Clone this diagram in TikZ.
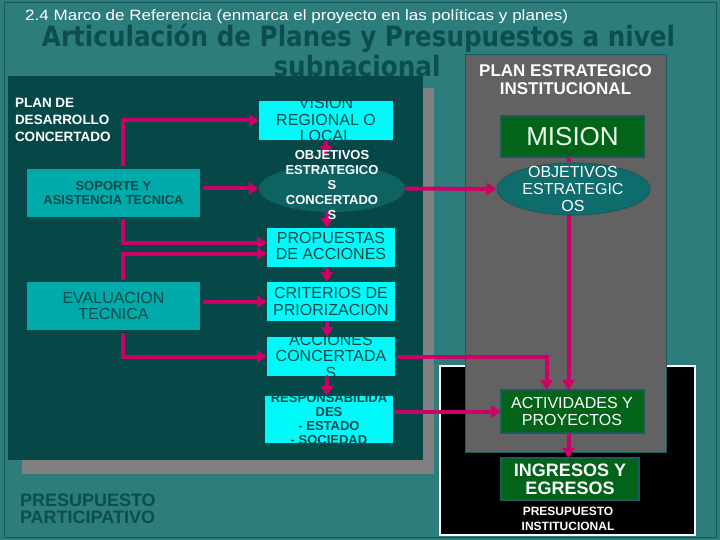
\documentclass[tikz,border=0pt]{standalone}
\usepackage{fontspec}
\setmainfont{Liberation Sans}
\newfontfamily\dvs{DejaVu Sans}
\usetikzlibrary{arrows.meta,shapes.geometric}
\definecolor{bgteal}{RGB}{45,125,125}
\definecolor{framec}{RGB}{25,90,90}
\definecolor{titlec}{RGB}{12,78,78}
\definecolor{panelc}{RGB}{6,72,72}
\definecolor{shadowc}{RGB}{128,128,128}
\definecolor{grayp}{RGB}{98,98,98}
\definecolor{cyanc}{RGB}{0,250,250}
\definecolor{midc}{RGB}{0,170,170}
\definecolor{ellL}{RGB}{14,98,98}
\definecolor{ellR}{RGB}{14,108,108}
\definecolor{greenc}{RGB}{3,100,25}
\definecolor{darktxt}{RGB}{10,75,75}
\definecolor{pinkc}{RGB}{204,0,102}
\newcommand{\fs}[2]{\fontsize{#1}{#2}\selectfont}
\begin{document}
\begin{tikzpicture}[x=1pt,y=-1pt,
  boxbase/.style={rectangle,inner sep=0pt,outer sep=0pt},
  cbox/.style={boxbase,fill=cyanc},
  mbox/.style={boxbase,fill=midc},
  gbox/.style={boxbase,fill=greenc,draw=framec,line width=1.2pt},
  txt/.style={inner sep=0pt,outer sep=0pt,align=center},
  pk/.style={draw=pinkc,line width=4pt,-{Triangle[width=12pt,length=10pt]}},
  pkline/.style={draw=pinkc,line width=4pt}]
\useasboundingbox (0,0) rectangle (720,540);
\fill[bgteal] (0,0) rectangle (720,540);
\draw[framec,line width=1pt] (4,3) rectangle (716,537);

% titles
\node[anchor=base west,text=white,inner sep=0pt] (sub) at (25,21)
  {\resizebox{543pt}{\height}{\fs{15}{17}2.4 Marco de Referencia (enmarca el proyecto en las políticas y planes)}};
\node[anchor=base,text=titlec,inner sep=0pt] (t1) at (358.5,47)
  {\resizebox{633pt}{\height}{\dvs\bfseries\fs{28}{30}Articulación de Planes y Presupuestos a nivel}};
\node[anchor=base,text=titlec,inner sep=0pt] (t2) at (357,77)
  {\resizebox{167pt}{\height}{\dvs\bfseries\fs{28}{30}subnacional}};

% panels
\node[boxbase,fill=shadowc,minimum width=412,minimum height=386] (shadow) at (228,281) {};
\node[boxbase,fill=panelc,minimum width=415,minimum height=384] (panel) at (215.5,268) {};
\node[boxbase,fill=black,draw=white,line width=2pt,minimum width=255,minimum height=169] (blk) at (567.5,450.5) {};
\node[boxbase,fill=grayp,draw=framec,line width=0.8pt,minimum width=201,minimum height=398] (gp) at (565.5,253.5) {};

% left column boxes
\node[mbox,minimum width=173,minimum height=48] (sop) at (113.5,193) {};
\node[mbox,minimum width=173,minimum height=48] (eval) at (113.5,306) {};

% centre column
\node[cbox,minimum width=134,minimum height=39] (vision) at (326,120.5) {};
\node[ellipse,fill=ellL,inner sep=0pt,minimum width=146,minimum height=47] (oel) at (332,188.5) {};
\node[cbox,minimum width=128,minimum height=39] (prop) at (331,247.5) {};
\node[cbox,minimum width=128,minimum height=39] (crit) at (331,301.5) {};
\node[cbox,minimum width=128,minimum height=39] (acc) at (331,356.5) {};
\node[cbox,minimum width=128,minimum height=47] (resp) at (329,419.5) {};

% right column
\node[gbox,minimum width=143,minimum height=41] (mision) at (572.5,136.5) {};
\node[ellipse,fill=ellR,draw=framec,line width=1pt,inner sep=0pt,minimum width=153,minimum height=52] (rel) at (573.5,189) {};
\node[gbox,minimum width=143,minimum height=43] (act) at (572.5,411.5) {};
\node[gbox,minimum width=138,minimum height=42] (ing) at (570,479) {};

% connectors
\coordinate (p1) at (123,166);
\coordinate (p3) at (123,219);
\coordinate (p6) at (123,280);
\coordinate (p5) at (123,333);
\draw[pk] (p1) |- (vision.west);
\draw[pk] ([xshift=3pt]sop.east |- oel.west) -- (oel.west);
\draw[pk] (p3) |- ([yshift=5pt]prop.west);
\draw[pk] (p6) |- ([yshift=-6pt]prop.west);
\draw[pk] ([xshift=3pt]eval.east |- crit.west) -- (crit.west);
\draw[pk] (p5) |- (acc.west);

\draw[pk,shorten >=9pt] (vision.south) -- (vision.south |- oel.north);
\draw[pk] ([xshift=-5pt]oel.south) -- ([xshift=-5pt]oel.south |- prop.north);
\draw[pk] ([xshift=-4pt]prop.south) -- ([xshift=-4pt]crit.north);
\draw[pk] ([xshift=-4pt]crit.south) -- ([xshift=-4pt]acc.north);
\draw[pk] ([xshift=-4pt]acc.south) -- ([xshift=-4pt]acc.south |- resp.north);

\draw[pk] (oel.east) -- (rel.west);
\draw[pkline] ([xshift=-4pt]mision.south) -- ([xshift=-4pt]mision.south |- rel.north);
\draw[pk] ([xshift=-5pt]rel.south) -- ([xshift=-5pt]rel.south |- act.north);
\draw[pk] ([xshift=-4pt]act.south) -- ([xshift=-4pt]act.south |- ing.north);
\draw[pk] ([xshift=2pt]acc.east) -| ([xshift=-26pt]act.north);
\draw[pk] ([xshift=2pt]resp.east |- act.west) -- (act.west);

% texts
\node[txt,anchor=west,align=left,text=white,font=\bfseries\fs{13.5}{17}] (pdc) at (15,120) {PLAN DE\\DESARROLLO\\CONCERTADO};
\node[txt,text=darktxt,font=\bfseries\fs{13}{14}] (sopt) at (sop) {SOPORTE Y\\ASISTENCIA TECNICA};
\node[txt,text=darktxt,font=\fs{16}{16.5}] (evalt) at (eval) {EVALUACION\\TECNICA};

\node[txt,text=darktxt,font=\fs{16}{16.5}] (visiont) at (326,119.5) {VISION\\REGIONAL O\\LOCAL};
\node[txt,text=white,font=\bfseries\fs{13}{15}] (oelt) at (332,185) {OBJETIVOS\\ESTRATEGICO\\S\\CONCERTADO\\S};
\node[txt,text=darktxt,font=\fs{16}{16.5}] (propt) at (331,246) {PROPUESTAS\\DE ACCIONES};
\node[txt,text=darktxt,font=\fs{16}{17}] (critt) at (331,301.5) {CRITERIOS DE\\PRIORIZACION};
\node[txt,text=darktxt,font=\fs{16}{16.5}] (acct) at (331,356) {ACCIONES\\CONCERTADA\\S};
\node[txt,text=darktxt,font=\bfseries\fs{13}{14}] (respt) at (329,419) {RESPONSABILIDA\\DES\\- ESTADO\\- SOCIEDAD};

\node[txt,text=white,font=\bfseries\fs{17}{18}] (pet) at (565.5,80) {PLAN ESTRATEGICO\\INSTITUCIONAL};
\node[txt,text=white!92!green,font=\fs{26}{28}] (misiont) at (mision) {MISION};
\node[txt,text=white,font=\fs{16}{17}] (relt) at (573,189) {OBJETIVOS\\ESTRATEGIC\\OS};
\node[txt,text=white,font=\fs{16}{17}] (actt) at (572,411.5) {ACTIVIDADES Y\\PROYECTOS};
\node[txt,text=white,font=\bfseries\fs{18}{18}] (ingt) at (570,479) {INGRESOS Y\\EGRESOS};
\node[txt,text=white,font=\bfseries\fs{12}{15}] (pit) at (568,518.5) {PRESUPUESTO\\INSTITUCIONAL};
\node[txt,anchor=west,align=left,text=titlec,font=\bfseries\fs{18}{17}] (ppt) at (20,508.5) {PRESUPUESTO\\PARTICIPATIVO};
\end{tikzpicture}
\end{document}
